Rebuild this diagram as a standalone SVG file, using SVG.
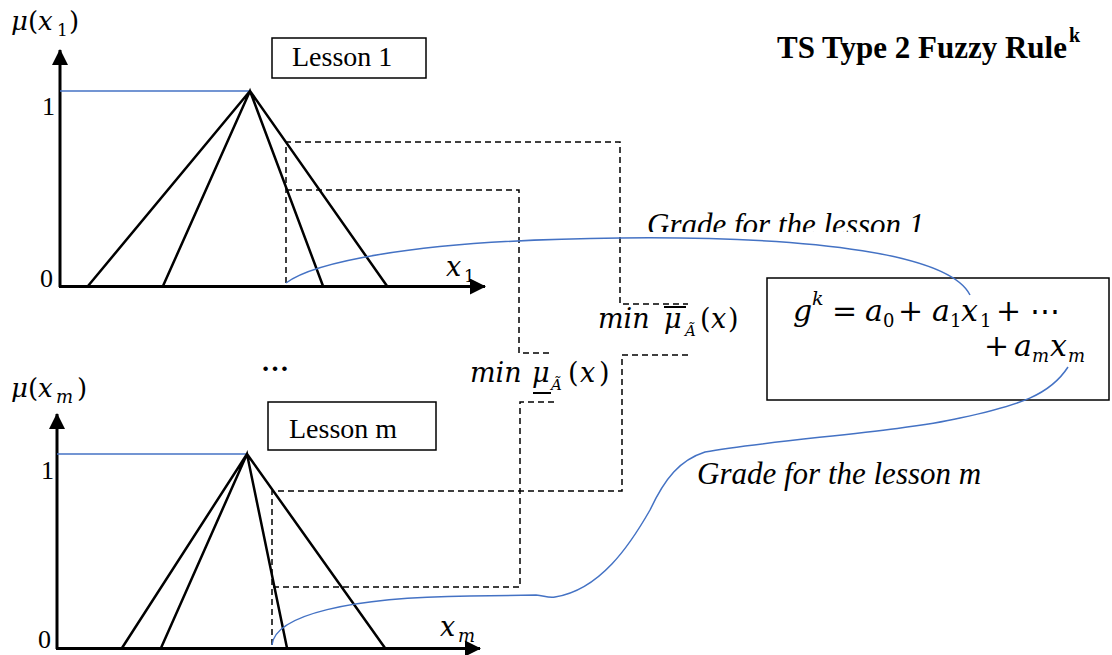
<svg xmlns="http://www.w3.org/2000/svg" width="1112" height="655" viewBox="0 0 1112 655">
<style>
.ax{stroke:#000;stroke-width:3;fill:none}
.tri{stroke:#000;stroke-width:2.5;fill:none;stroke-linecap:round}
.blue{stroke:#4472C4;stroke-width:1.5;fill:none}
.dash{stroke:#000;stroke-width:1.5;fill:none;stroke-dasharray:6 4}
.box{stroke:#000;stroke-width:1.5;fill:#fff}
.rm{font-family:"Liberation Serif","Times New Roman",serif;fill:#000}
.ti{font-family:"Liberation Serif","Times New Roman",serif;font-style:italic;fill:#000}
.m{font-family:"DejaVu Serif",serif;font-style:italic;fill:#000}
.up{font-style:normal}
</style>
<defs>
<marker id="arr" viewBox="0 0 16 16" refX="15" refY="8" markerWidth="16" markerHeight="16" markerUnits="userSpaceOnUse" orient="auto">
<path d="M0,0 L16,8 L0,16 Z" fill="#000"/>
</marker>
<clipPath id="clipG"><rect x="600" y="200" width="400" height="32"/></clipPath>
</defs>
<rect width="1112" height="655" fill="#fff"/>

<g id="title">
<text class="rm" x="777" y="58" font-size="31" font-weight="bold">TS Type 2 Fuzzy Rule</text>
<text class="rm" x="1069" y="42" font-size="20" font-weight="bold">k</text>
</g>

<g id="chart1">
<path class="ax" d="M60,287 V50" marker-end="url(#arr)"/>
<path class="ax" d="M59,286.5 H485" marker-end="url(#arr)"/>
<line class="blue" x1="60" y1="91" x2="250" y2="91"/>
<path class="tri" d="M88,286 L250,91 L387,286 M163,286 L250,91 L323,286"/>
<text class="m" font-size="26"><tspan x="11" y="30">μ</tspan><tspan class="up" x="28" y="30">(</tspan><tspan x="38" y="30">x</tspan><tspan class="up" x="57" y="36" font-size="17">1</tspan><tspan class="up" x="69" y="30">)</tspan></text>
<text class="rm" x="42" y="115" font-size="26">1</text>
<text class="rm" x="40" y="287" font-size="26">0</text>
<text class="m" font-size="27"><tspan x="446" y="276">x</tspan><tspan class="up" x="464" y="282" font-size="17">1</tspan></text>
</g>

<g id="lesson1">
<rect class="box" x="272" y="38" width="154" height="40"/>
<text class="rm" x="292" y="66" font-size="28">Lesson 1</text>
</g>

<g id="ellipsis">
<text class="rm" x="261" y="371" font-size="28" font-weight="bold">…</text>
</g>

<g id="chart2">
<path class="ax" d="M57,649 V414" marker-end="url(#arr)"/>
<path class="ax" d="M56,648.5 H480" marker-end="url(#arr)"/>
<line class="blue" x1="57" y1="454" x2="247" y2="454"/>
<path class="tri" d="M122,648 L247,454 L385,648 M161,648 L247,454 L287,648"/>
<text class="m" font-size="26"><tspan x="11" y="397">μ</tspan><tspan class="up" x="28" y="397">(</tspan><tspan x="38" y="397">x</tspan><tspan x="56" y="403" font-size="18">m</tspan><tspan class="up" x="77" y="397">)</tspan></text>
<text class="rm" x="41" y="479" font-size="26">1</text>
<text class="rm" x="38" y="648" font-size="26">0</text>
<text class="m" font-size="27"><tspan x="440" y="636">x</tspan><tspan x="458" y="642" font-size="18">m</tspan></text>
</g>

<g id="lessonm">
<rect class="box" x="268" y="402" width="168" height="48"/>
<text class="rm" x="289" y="438" font-size="28">Lesson m</text>
</g>

<g id="minUpper">
<text class="m" font-size="27"><tspan x="598" y="328">min</tspan><tspan x="664" y="328">μ</tspan><tspan x="685" y="336" font-size="15">Ã</tspan><tspan class="up" x="700" y="328">(</tspan><tspan x="711" y="328">x</tspan><tspan class="up" x="728" y="328">)</tspan></text>
<line x1="664" y1="307" x2="686" y2="307" stroke="#000" stroke-width="2"/>
</g>

<g id="minLower">
<text class="m" font-size="27"><tspan x="470" y="382">min</tspan><tspan x="532" y="382">μ</tspan><tspan x="551" y="390" font-size="15">Ã</tspan><tspan class="up" x="568" y="382">(</tspan><tspan x="580" y="382">x</tspan><tspan class="up" x="599" y="382">)</tspan></text>
<line x1="533" y1="393" x2="551" y2="393" stroke="#000" stroke-width="2"/>
</g>

<g id="formula">
<rect class="box" x="767" y="278" width="342" height="122"/>
<text class="m" font-size="30"><tspan x="793" y="321">g</tspan><tspan x="812" y="305" font-size="19">k</tspan><tspan class="up" x="832" y="321">=</tspan><tspan x="865" y="321">a</tspan><tspan class="up" x="883" y="327" font-size="18">0</tspan><tspan class="up" x="898" y="321">+</tspan><tspan x="932" y="321">a</tspan><tspan class="up" x="950" y="327" font-size="18">1</tspan><tspan x="961" y="321">x</tspan><tspan class="up" x="980" y="327" font-size="18">1</tspan><tspan class="up" x="996" y="321">+</tspan><tspan class="up" x="1030" y="321">⋯</tspan></text>
<text class="m" font-size="30"><tspan class="up" x="984" y="356">+</tspan><tspan x="1014" y="356">a</tspan><tspan x="1032" y="362" font-size="18">m</tspan><tspan x="1050" y="356">x</tspan><tspan x="1068" y="362" font-size="18">m</tspan></text>
</g>

<g id="grade1">
<text class="ti" x="647" y="235" font-size="31" clip-path="url(#clipG)">Grade for the lesson 1</text>
</g>

<g id="gradem">
<text class="ti" x="697" y="484" font-size="31">Grade for the lesson m</text>
</g>

<g id="connectors">
<path class="dash" d="M286,283 V142 H620 V304 H688"/>
<path class="dash" d="M286,190 H519 V353 H553"/>
<path class="dash" d="M272,645 V491 H622 V355 H688"/>
<path class="dash" d="M273,587 H520 V402 H555"/>
<path class="blue" d="M286,283 C310,265 400,240 620,238 C820,236 950,255 970,295"/>
<path class="blue" d="M272,645 C275,615 350,597 470,596 L536,595 C545,596 548,598 555,597 C600,590 630,545 650,510 C665,478 680,460 705,452 C770,440 900,432 960,418 C1020,405 1050,395 1068,367"/>
</g>
</svg>
